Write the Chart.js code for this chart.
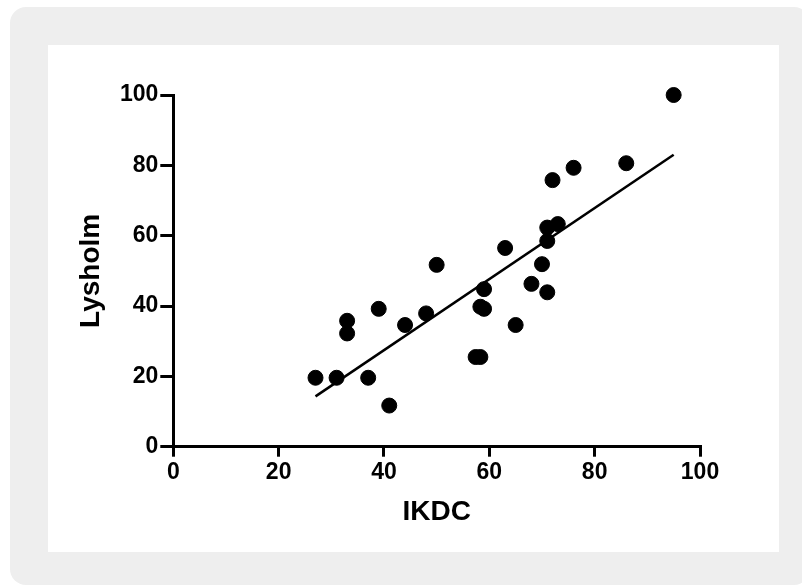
<!DOCTYPE html>
<html>
<head>
<meta charset="utf-8">
<script src="https://cdn.jsdelivr.net/npm/chart.js@4/dist/chart.umd.min.js"></script>
<style>
  html, body { margin: 0; padding: 0; background: #fff; overflow: hidden; }
  #frame { position: absolute; left: 10px; top: 7px; width: 800px; height: 578px; background: #eeeeee; border-radius: 16px; }
  #panel { position: absolute; left: 48px; top: 45px; width: 731px; height: 507px; background: #fff; }
  #chart { position: absolute; left: 0; top: 0; }
</style>
</head>
<body>
<div id="frame"></div>
<div id="panel"></div>
<canvas id="chart" width="802" height="586"></canvas>
<script>
// values
const ikdc = [27, 31, 33, 33, 37, 39, 41, 44, 48, 50, 57.4, 58.3, 58.3, 59, 59, 63, 65, 68, 70, 71, 71, 71, 73, 72, 76, 86, 95];
const lysholm = [19.6, 19.6, 35.8, 32.2, 19.6, 39.2, 11.7, 34.6, 37.9, 51.7, 25.5, 25.5, 39.8, 39.2, 44.8, 56.5, 34.6, 46.3, 51.9, 43.9, 58.5, 62.3, 63.3, 75.8, 79.3, 80.6, 100];

// regression line end points
const fitX = [27, 95];
const fitY = [14.3, 83];

const xTicks = [0, 20, 40, 60, 80, 100];
const yTicks = [0, 20, 40, 60, 80, 100];

const points = ikdc.map((x, i) => ({ x, y: lysholm[i] }));
const fit = fitX.map((x, i) => ({ x, y: fitY[i] }));

const tickFont = { family: "'Liberation Sans', Arial, sans-serif", size: 23, weight: "bold" };
const titleFont = { family: "'Liberation Sans', Arial, sans-serif", size: 28, weight: "bold" };

new Chart(document.getElementById("chart"), {
  type: "scatter",
  data: {
    datasets: [
      {
        data: points,
        backgroundColor: "#000",
        borderColor: "#000",
        pointRadius: 7.5,
        pointHoverRadius: 7.5,
        clip: false
      },
      {
        type: "line",
        data: fit,
        borderColor: "#000",
        borderWidth: 2.5,
        pointRadius: 0,
        fill: false,
        clip: false
      }
    ]
  },
  options: {
    responsive: false,
    animation: false,
    layout: { padding: { left: 0, top: 95, right: 102, bottom: 0 } },
    plugins: { legend: { display: false }, tooltip: { enabled: false } },
    scales: {
      x: {
        type: "linear",
        min: 0,
        max: 100,
        afterBuildTicks: (s) => { s.ticks = xTicks.map((v) => ({ value: v })); },
        afterFit: (s) => { s.height = 139.3; },
        border: { color: "#000", width: 3 },
        grid: { drawOnChartArea: false, drawTicks: true, color: "#000", lineWidth: 3, tickLength: 10 },
        ticks: { color: "#000", font: tickFont, padding: 2, maxRotation: 0 },
        title: { display: true, text: "IKDC", color: "#000", font: titleFont, padding: { top: 0, bottom: 57 } }
      },
      y: {
        type: "linear",
        min: 0,
        max: 100,
        afterBuildTicks: (s) => { s.ticks = yTicks.map((v) => ({ value: v })); },
        afterFit: (s) => { s.width = 173.3; },
        border: { color: "#000", width: 3 },
        grid: { drawOnChartArea: false, drawTicks: true, color: "#000", lineWidth: 3, tickLength: 13 },
        ticks: { color: "#000", font: tickFont, padding: 2 },
        title: { display: true, text: "Lysholm", color: "#000", font: titleFont, padding: { top: 74, bottom: 0 } }
      }
    }
  }
});
</script>
</body>
</html>
